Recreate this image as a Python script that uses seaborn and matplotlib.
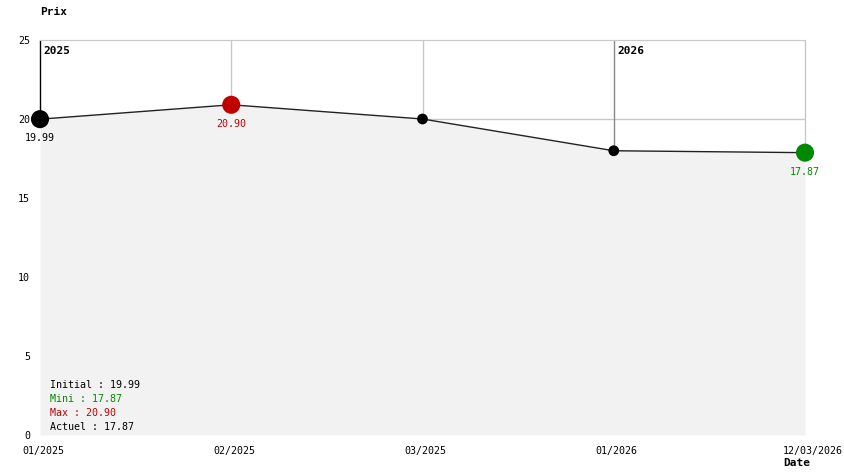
import pandas as pd
import seaborn as sns
import matplotlib.pyplot as plt
from matplotlib.transforms import offset_copy

dates = ['01/2025', '02/2025', '03/2025', '01/2026', '12/03/2026']
prices = [19.99, 20.90, 20.00, 17.99, 17.87]
year_starts = [(0, '2025'), (3, '2026')]
y_ticks = [0, 5, 10, 15, 20, 25]

df = pd.DataFrame({'pos': range(len(dates)), 'prix': prices})

sns.set_style("white")
plt.rcParams['font.family'] = ['DejaVu Sans Mono']
plt.rcParams['font.size'] = 7.2
plt.rcParams['text.color'] = 'black'

fig = plt.figure(figsize=(8.44, 4.74), dpi=100)
ax = fig.add_axes([40 / 844, 1 - 435 / 474, 765 / 844, 395 / 474])

# grid
ax.axhline(20, color='#c8c8c8', lw=1, zorder=0)
year_pos = [i for i, _ in year_starts]
for i, p in enumerate(prices):
    if i in year_pos:
        c = 'black' if i == 0 else '#888888'
    else:
        c = '#c8c8c8'
    ax.vlines(i, p, 25, color=c, lw=1, zorder=0.5, clip_on=False)
for i, yr in year_starts:
    ax.text(i + 0.02, 24.3, yr, fontweight='bold', fontsize=8, va='center', ha='left')

ax.fill_between(df['pos'], df['prix'], 0, color='#f2f2f2', zorder=1, lw=0)
sns.lineplot(data=df, x='pos', y='prix', color='#222222', lw=1, ax=ax, zorder=2)

colors = ['black', '#c00000', 'black', 'black', '#008800']
sizes = [170, 170, 60, 60, 170]
ax.scatter(df['pos'], df['prix'], c=colors, s=sizes, zorder=3, lw=0, clip_on=False)

ax.text(0, prices[0] - 1.2, f'{prices[0]:.2f}', ha='center', va='center', color='black')
ax.text(1, prices[1] - 1.2, f'{prices[1]:.2f}', ha='center', va='center', color='#c00000')
ax.text(4, prices[4] - 1.2, f'{prices[4]:.2f}', ha='center', va='center', color='#008800')

ax.set_xlim(0, len(dates) - 1)
ax.set_ylim(0, 25)
ax.set_xticks(range(len(dates)))
ax.set_xticklabels([])
for i, d in enumerate(dates):
    if i == len(dates) - 1:
        fig.text(843 / 844, 1 - 451 / 474, d, ha='right', va='center', color='black')
        continue
    tr = offset_copy(ax.get_xaxis_transform(), fig=fig, x=-18, y=-16, units='dots')
    ax.text(i, 0, d, transform=tr, ha='left', va='center', color='black', clip_on=False)
ax.set_yticks(y_ticks)
ax.tick_params(length=0, labelsize=7.2, labelcolor='black')
ax.tick_params(axis='y', pad=7.2)
for s in ['left', 'bottom', 'right']:
    ax.spines[s].set_visible(False)
ax.spines['top'].set_color('#c8c8c8')
ax.set_xlabel('')
ax.set_ylabel('')

fig.text(40 / 844, 1 - 12 / 474, 'Prix', fontweight='bold', fontsize=8, va='center', ha='left')
fig.text(783 / 844, 1 - 463 / 474, 'Date', fontweight='bold', fontsize=8, va='center', ha='left')

summary = [('Initial : 19.99', 'black'), ('Mini : 17.87', '#008800'),
           ('Max : 20.90', '#c00000'), ('Actuel : 17.87', 'black')]
for k, (t, c) in enumerate(summary):
    fig.text(50 / 844, 1 - (385 + 14 * k) / 474, t, color=c, va='center', ha='left')

plt.savefig('out.png', dpi=100)
